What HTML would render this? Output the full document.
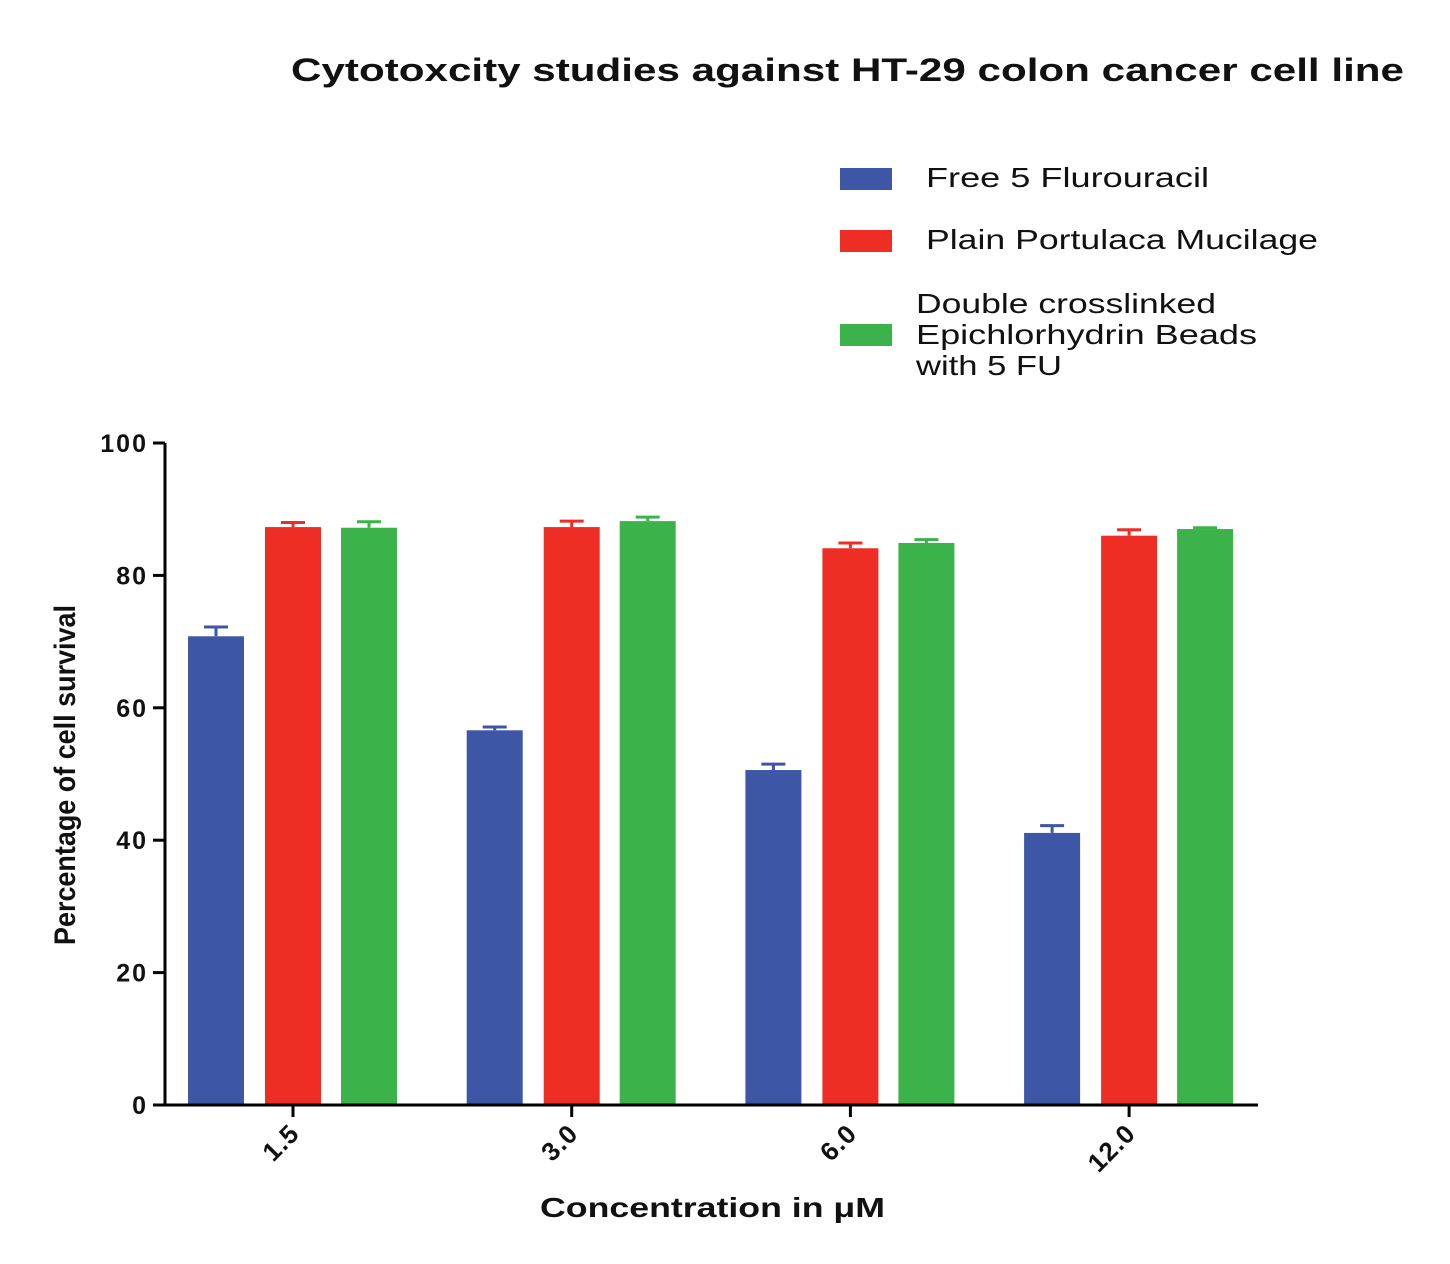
<!DOCTYPE html>
<html><head><meta charset="utf-8"><style>
body{margin:0;background:#fff;}
svg text{font-family:"Liberation Sans",sans-serif;fill:#111;}
</style></head><body>
<svg id="chart" width="1450" height="1259" xmlns="http://www.w3.org/2000/svg">
<text x="291" y="81" font-size="32" font-weight="bold" textLength="1113" lengthAdjust="spacingAndGlyphs">Cytotoxcity studies against HT-29 colon cancer cell line</text>
<g>
<rect x="840" y="168" width="52" height="22" fill="#3d56a6"/>
<text x="926" y="187" font-size="28" textLength="283" lengthAdjust="spacingAndGlyphs">Free 5 Flurouracil</text>
<rect x="840" y="230" width="52" height="22" fill="#ee2d25"/>
<text x="926" y="249" font-size="28" textLength="392" lengthAdjust="spacingAndGlyphs">Plain Portulaca Mucilage</text>
<rect x="840" y="324" width="52" height="22" fill="#3bb34a"/>
<text font-size="28"><tspan x="916" y="313" textLength="300" lengthAdjust="spacingAndGlyphs">Double crosslinked</tspan><tspan x="916" y="344" textLength="341" lengthAdjust="spacingAndGlyphs">Epichlorhydrin Beads</tspan><tspan x="916" y="375" textLength="146" lengthAdjust="spacingAndGlyphs">with 5 FU</tspan></text>
</g>
<g id="plot"></g>
<text transform="translate(75,775) rotate(-90)" text-anchor="middle" font-size="30" font-weight="bold" textLength="340" lengthAdjust="spacingAndGlyphs">Percentage of cell survival</text>
<text x="540" y="1217" font-size="28" font-weight="bold" textLength="345" lengthAdjust="spacingAndGlyphs">Concentration in μM</text>
</svg>
<script>
const categories=["1.5","3.0","6.0","12.0"];
const seriesNames=["Free 5 Flurouracil","Plain Portulaca Mucilage","Double crosslinked Epichlorhydrin Beads with 5 FU"];
const freeFU=[70.8,56.6,50.6,41.1];
const freeFUErr=[1.4,0.5,0.9,1.1];
const plainMucilage=[87.3,87.3,84.1,86.0];
const plainMucilageErr=[0.7,0.9,0.8,0.9];
const beads=[87.2,88.2,84.9,87.0];
const beadsErr=[0.9,0.6,0.5,0.2];
const yTicks=[0,20,40,60,80,100];
const colors=["#3d56a6","#ee2d25","#3bb34a"];
const NS="http://www.w3.org/2000/svg";
const g=document.getElementById('plot');
const x0=165,x1=1258,yb=1105,yt=443;
const y=v=>yb-(v/100)*(yb-yt);
const cx=i=>293+i*278.7;
const offs=[-77,0,76],bw=56;
function el(t,a){const e=document.createElementNS(NS,t);for(const k in a)e.setAttribute(k,a[k]);g.appendChild(e);return e;}
const series=[[freeFU,freeFUErr],[plainMucilage,plainMucilageErr],[beads,beadsErr]];
series.forEach((s,si)=>{s[0].forEach((v,i)=>{
 const bx=cx(i)+offs[si]-bw/2;
 const r=el('rect',{x:bx,y:y(v),width:bw,height:yb-y(v),fill:colors[si]});
 
 
 const e=y(v+s[1][i]);
 const l=el('path',{d:`M${bx+bw/2},${y(v)}V${e}M${bx+bw/2-12},${e}H${bx+bw/2+12}`,stroke:colors[si],'stroke-width':3,fill:'none'});
 
 
});});
const ya=el('path',{d:`M${x0},${yt}V${yb}H${x1}`,stroke:'#000','stroke-width':3,fill:'none'});


yTicks.forEach(t=>{
 const tk=el('line',{x1:x0-12,x2:x0,y1:y(t),y2:y(t),stroke:'#000','stroke-width':3});
 
 
 const tx=el('text',{x:x0-17,y:y(t)+9,'text-anchor':'end','font-size':25,'font-weight':'bold','letter-spacing':'2'});
 tx.textContent=t;
 
 
});
categories.forEach((c,i)=>{
 const tk=el('line',{x1:cx(i),x2:cx(i),y1:yb,y2:yb+12,stroke:'#000','stroke-width':3});
 
 
 const tx=el('text',{transform:`translate(${cx(i)+8},${yb+30}) rotate(-45)`,'text-anchor':'end','font-size':26,'font-weight':'bold','letter-spacing':'1'});
 tx.textContent=c;
 
 
});
</script>
</body></html>
